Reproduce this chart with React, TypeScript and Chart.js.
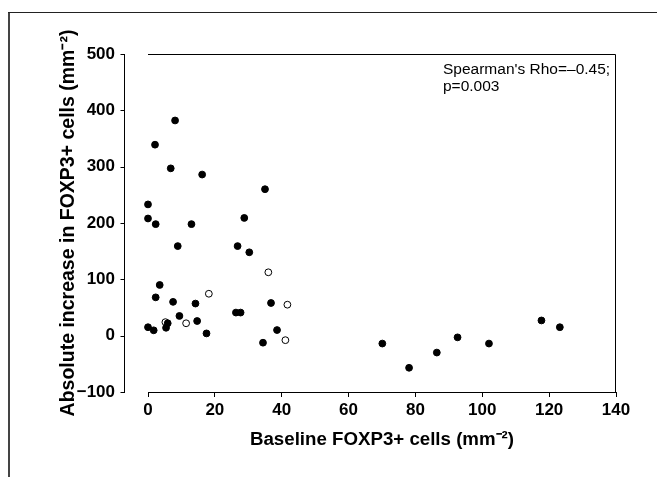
import React, { useEffect, useRef } from "react";
import { Chart, registerables } from "chart.js";

Chart.register(...registerables);

// Filled circles
const filledX = [8.1, 2.1, 6.8, 16.2, 35.0, 0, 0, 2.3, 13.0, 28.8, 8.9, 26.8, 30.3, 3.5, 2.3, 7.5, 14.2, 36.8, 9.4, 26.3, 27.7, 5.9, 5.4, 14.7, 0, 1.7, 17.5, 38.6, 34.4, 70.1, 78.1, 86.4, 92.6, 102.0, 117.7, 123.2];
const filledY = [382, 339, 297, 286, 260, 233, 208, 198, 198, 209, 159, 159, 148, 90, 68, 60, 57, 58, 35, 41, 41, 22, 14, 26, 15, 9.5, 4, 10, -12.5, -14, -57, -30, -3, -14, 27, 15];
// Open circles
const openX = [36.0, 18.2, 41.7, 5.2, 11.4, 41.1];
const openY = [112.5, 74.4, 55, 24, 22, -8];

const xMin = 0;
const xMax = 140;
const xStep = 20;
const yMin = -100;
const yMax = 500;
const yStep = 100;

const xTitle = "Baseline FOXP3+ cells (mm\u207B\u00B2)";
const yTitle = "Absolute increase in FOXP3+ cells (mm\u207B\u00B2)";
const noteLines = ["Spearman's Rho=\u20130.45;", "p=0.003"];

const FONT = "'Liberation Sans', Arial, Helvetica, sans-serif";

const framePlugin = {
  id: "frame",
  beforeDraw(chart: any) {
    const { ctx, width, height } = chart;
    ctx.save();
    ctx.fillStyle = "#fff";
    ctx.fillRect(0, 0, width, height);
    ctx.fillStyle = "#444";
    ctx.fillRect(8, 12, 2, height - 12);
    ctx.fillStyle = "#222";
    ctx.fillRect(8, 12, width - 8, 1);
    ctx.restore();
  },
  afterDraw(chart: any) {
    const { ctx, chartArea, scales } = chart;
    const y = scales.y;
    ctx.save();
    ctx.strokeStyle = "#000";
    ctx.lineWidth = 1;
    const ax = Math.round(chartArea.left - 24) + 0.5;
    ctx.beginPath();
    ctx.moveTo(ax, Math.round(y.getPixelForValue(yMax)));
    ctx.lineTo(ax, Math.round(y.getPixelForValue(yMin)) + 1);
    y.ticks.forEach((t: any) => {
      const py = Math.round(y.getPixelForValue(t.value)) + 0.5;
      ctx.moveTo(ax - 4, py);
      ctx.lineTo(ax, py);
    });
    const top = Math.round(chartArea.top) + 0.5;
    const right = Math.round(chartArea.right) - 0.5;
    ctx.moveTo(chartArea.left, top);
    ctx.lineTo(right, top);
    ctx.moveTo(right, top);
    ctx.lineTo(right, chartArea.bottom);
    ctx.stroke();

    ctx.fillStyle = "#000";
    ctx.font = `15.5px ${FONT}`;
    ctx.textBaseline = "middle";
    ctx.textAlign = "left";
    noteLines.forEach((line, i) => {
      ctx.fillText(line, 443, 70 + i * 16.8);
    });
    ctx.restore();
  },
};

export default function App() {
  const ref = useRef<HTMLCanvasElement | null>(null);

  useEffect(() => {
    if (!ref.current) return;
    const chart = new Chart(ref.current, {
      type: "scatter",
      data: {
        datasets: [
          {
            label: "filled",
            data: filledX.map((x, i) => ({ x, y: filledY[i] })),
            backgroundColor: "#000",
            borderColor: "#000",
            borderWidth: 1,
            pointRadius: 3.4,
            clip: false,
          },
          {
            label: "open",
            data: openX.map((x, i) => ({ x, y: openY[i] })),
            backgroundColor: "#fff",
            borderColor: "#000",
            borderWidth: 1,
            pointRadius: 3.4,
            clip: false,
          },
        ],
      },
      options: {
        responsive: false,
        animation: false,
        devicePixelRatio: 1,
        layout: { padding: { left: 57, right: 41, top: 54, bottom: 26 } },
        plugins: {
          legend: { display: false },
          tooltip: { enabled: false },
        },
        scales: {
          x: {
            type: "linear",
            min: xMin,
            max: xMax,
            afterFit: (s: any) => {
              s.height = 59;
            },
            ticks: {
              stepSize: xStep,
              color: "#000",
              padding: 3,
              font: { family: FONT, size: 17, weight: "bold" },
            },
            grid: {
              drawOnChartArea: false,
              drawTicks: true,
              tickLength: 5,
              tickColor: "#000",
            },
            border: { display: true, color: "#000", width: 1 },
            title: {
              display: true,
              text: xTitle,
              color: "#000",
              padding: 0,
              font: { family: FONT, size: 18.7, weight: "bold" },
            },
          },
          y: {
            type: "linear",
            min: yMin,
            max: yMax,
            afterFit: (s: any) => {
              s.width = 91;
            },
            ticks: {
              stepSize: yStep,
              color: "#000",
              padding: 33,
              font: { family: FONT, size: 17, weight: "bold" },
              callback: (v: any) => String(v).replace("-", "\u2212"),
            },
            grid: { display: false, drawTicks: false },
            border: { display: false },
            title: {
              display: true,
              text: yTitle,
              color: "#000",
              padding: 0,
              font: { family: FONT, size: 19.5, weight: "bold" },
            },
          },
        },
      },
      plugins: [framePlugin],
    });
    return () => chart.destroy();
  }, []);

  return (
    <div style={{ position: "fixed", left: 0, top: 0, width: 657, height: 477, background: "#fff" }}>
      <canvas ref={ref} width={657} height={477} style={{ display: "block" }} />
    </div>
  );
}
